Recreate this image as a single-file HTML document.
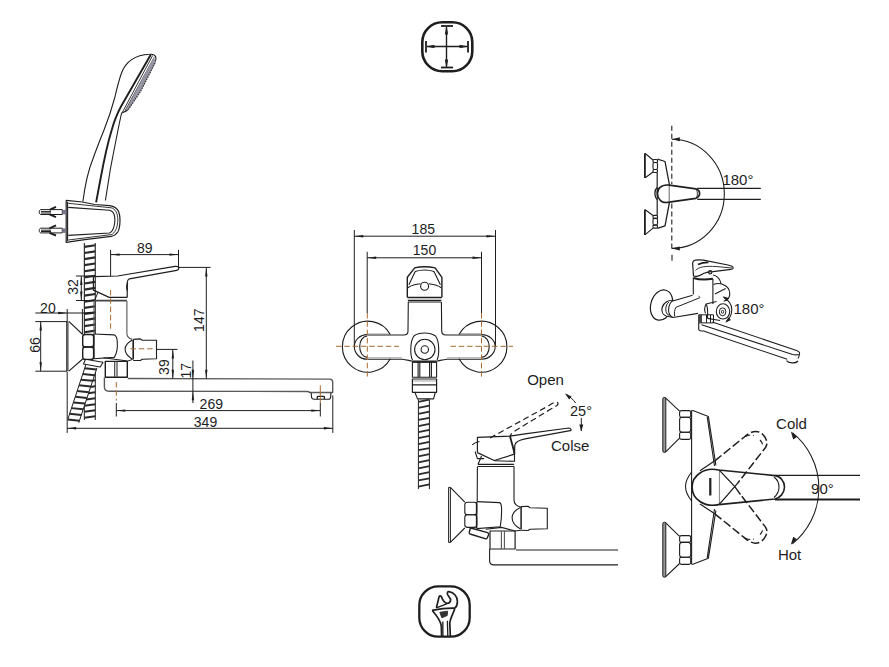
<!DOCTYPE html>
<html><head><meta charset="utf-8"><style>
html,body{margin:0;padding:0;background:#fff;}
svg{display:block;}
text{font-family:"Liberation Sans",sans-serif;fill:#1e1e1e;stroke:none;}
</style></head><body>
<svg width="889" height="667" viewBox="0 0 889 667">
<g fill="none" stroke="#1e1e1e" stroke-width="1.1" stroke-linecap="butt" stroke-linejoin="round">
<g id="icon1" stroke="#1e1e1e">
<rect x="422.3" y="22.3" width="50" height="49" rx="20" ry="20" stroke-width="2.6"/>
<line x1="427" y1="46.5" x2="467" y2="46.5" stroke-width="1.4"/>
<line x1="446.5" y1="27" x2="446.5" y2="67" stroke-width="1.4"/>
<path d="M428,46.5 L434,45.3 L435,46.5 L434,47.7 Z M466,46.5 L460,45.3 L459,46.5 L460,47.7 Z M446.5,28 L445.3,34 L446.5,35 L447.7,34 Z M446.5,66 L445.3,60 L446.5,59 L447.7,60 Z" fill="#1e1e1e" stroke-width="0.8"/>
<line x1="426" y1="41" x2="426" y2="52.5" stroke-width="1.8"/>
<line x1="468" y1="41" x2="468" y2="52.5" stroke-width="1.8"/>
<line x1="441" y1="26" x2="453" y2="26" stroke-width="1.8"/>
<line x1="441" y1="67.5" x2="453" y2="67.5" stroke-width="1.8"/>
</g>
<g id="icon2" stroke="#1e1e1e">
<rect x="419.3" y="586.3" width="50.4" height="50.4" rx="19" ry="19" stroke-width="2.3"/>
<path d="M432.3,610.6 C436.5,615.5 440.5,620 441.3,626 L441.6,636" stroke-width="1.7"/>
<path d="M454.8,608.6 C453.3,613.5 450.3,618 449.8,623 L450.3,636" stroke-width="1.7"/>
<path d="M442.8,621.5 L442.9,636 M447.4,620.8 L447.8,636" stroke-width="1.3"/>
<path d="M432,610.4 C440,608.8 448,608 455,608.2" stroke-width="1.7"/>
<path d="M436.4,607.9 L439,597 C439.5,595.6 440.6,595.6 441.2,596.4 C442.6,599.8 444.6,603 447,603.4 C449,603.5 450.4,601.5 450.7,599.5 L447.6,594.6 C447,593.2 447.5,591.4 449,591.6 C454,592.4 457.4,596.8 457.4,601.4 C457.4,604.8 456.3,607 454.9,608.2" stroke-width="1.7"/>
<path d="M436.4,607.9 L446.7,603.8" stroke-width="1.3"/>
<path d="M439.8,612.3 L447.6,611.2 L447.2,615.6 L441.8,617.8 Z" fill="#333" stroke-width="0.8"/>
</g>
<g id="left">
<path d="M82.9,201.5 C85,185 88.5,170 92.7,159.5 C96,150 100,140 104,130 C108,120 112,108 114.8,97.5 C117,88 119,80 121.5,73 C126,61 136,55 149.6,54.3 C152.5,54 155,55 155.8,57 C156.3,58.5 156,60 155.2,61.5 L127.5,110 C126,111.5 123.5,112.3 121.6,113 C120,120 119,125 118,130 C116,140 114,150 112.2,159.5 C110.5,168 109.5,174 108.8,179 L105.4,200.5"/>
<path d="M150.7,54.8 L121,106.5 C118,112 114.5,120 111.7,130 C108,142 104,160 100.5,179 L96.1,202.4" stroke-width="1.9"/>
<path d="M152.6,55.5 L122.4,112.3 M154.2,57.3 L125.2,110.5" stroke-width="0.9"/>
<path d="M153.5,57.5 C155,58.5 155.6,60.5 155,63 L140.5,91.5 L128.3,109.5 L125.6,110.3 Z" fill="#9595a3" stroke="none"/>
<path d="M155,63 L140.5,91.5 L128.3,109.5" stroke="#333" stroke-width="1.3" stroke-dasharray="1.5,1"/>
<path d="M66.2,200.4 L82.3,202 L94.7,204.5 L109.5,205.7 C114,206.3 117.5,208.5 118.8,212 C119.8,215 120,218 120,220 C120,225 119.5,229 117.8,232 C116,234.5 113.5,236 111.2,236.3 L84.8,239.6 L66.2,242.4 Z" stroke-width="1.2"/>
<path d="M68.3,203.3 L111.2,207.8 C115,208.5 117.8,213 117.8,219.8 C117.8,227 115,233.5 111.2,234.6 L68.3,240" stroke-width="0.9"/>
<path d="M68.3,207.4 L109.5,210.3 C112.8,211 114.9,214.5 114.9,219.8 C114.9,225.5 113,232 109.5,233 L68.3,235.4" stroke-width="1.1"/>
<line x1="67.6" y1="202" x2="67.6" y2="241"/>
<g stroke-width="1">
<path d="M41,209.6 L62.3,209.6 L62.3,214.5 L41,214.5 C38.6,214.5 38.6,209.6 41,209.6 Z M41,211.6 L51,211.6 M41,213 L51,213"/>
<path d="M49.5,209.8 L56,206.8 M49.5,214.4 L56,217.2" stroke-width="1.9"/>
<rect x="62.4" y="209.9" width="4" height="4.5" fill="#77778a" stroke="none"/>
<path d="M41,228.2 L62.3,228.2 L62.3,232.9 L41,232.9 C38.6,232.9 38.6,228.2 41,228.2 Z M41,230.2 L51,230.2 M41,231.5 L51,231.5"/>
<path d="M49.5,228.4 L56,225.4 M49.5,232.8 L56,235.5" stroke-width="1.9"/>
<rect x="62.4" y="228.4" width="4" height="4.5" fill="#77778a" stroke="none"/>
</g>

<g><line x1="84.35" y1="243.00" x2="84.35" y2="334.00" stroke-width="1.1"/><line x1="95.25" y1="243.00" x2="95.25" y2="334.00" stroke-width="1.1"/><line x1="84.35" y1="246.87" x2="95.25" y2="245.23" stroke-width="2.2" stroke="#2a2a2a"/><line x1="84.35" y1="252.97" x2="95.25" y2="251.33" stroke-width="2.2" stroke="#2a2a2a"/><line x1="84.35" y1="259.07" x2="95.25" y2="257.43" stroke-width="2.2" stroke="#2a2a2a"/><line x1="84.35" y1="265.17" x2="95.25" y2="263.53" stroke-width="2.2" stroke="#2a2a2a"/><line x1="84.35" y1="271.27" x2="95.25" y2="269.63" stroke-width="2.2" stroke="#2a2a2a"/><line x1="84.35" y1="277.37" x2="95.25" y2="275.73" stroke-width="2.2" stroke="#2a2a2a"/><line x1="84.35" y1="283.47" x2="95.25" y2="281.83" stroke-width="2.2" stroke="#2a2a2a"/><line x1="84.35" y1="289.57" x2="95.25" y2="287.93" stroke-width="2.2" stroke="#2a2a2a"/><line x1="84.35" y1="295.67" x2="95.25" y2="294.03" stroke-width="2.2" stroke="#2a2a2a"/><line x1="84.35" y1="301.77" x2="95.25" y2="300.13" stroke-width="2.2" stroke="#2a2a2a"/><line x1="84.35" y1="307.87" x2="95.25" y2="306.23" stroke-width="2.2" stroke="#2a2a2a"/><line x1="84.35" y1="313.97" x2="95.25" y2="312.33" stroke-width="2.2" stroke="#2a2a2a"/><line x1="84.35" y1="320.07" x2="95.25" y2="318.43" stroke-width="2.2" stroke="#2a2a2a"/><line x1="84.35" y1="326.17" x2="95.25" y2="324.53" stroke-width="2.2" stroke="#2a2a2a"/><line x1="84.35" y1="332.27" x2="95.25" y2="330.63" stroke-width="2.2" stroke="#2a2a2a"/></g>

<path d="M93.4,276.6 L117.6,276 L175,266.4 C177.5,266 179,267 178.8,268.3 C178.6,269.5 177.8,270.2 176.7,270.4 L129.4,278.8 C128,279.5 127.5,280.5 127.3,282 L127.2,297.4" stroke-width="1.2"/>
<path d="M93.4,276.6 L93.4,290.1 L109.2,297.4 L127.2,297.4" stroke-width="1.2"/>
<path d="M97.9,292.3 L94.6,300.7" stroke-width="1"/>
<path d="M127.6,283 C126.5,286 126.5,289 127.6,290.5" stroke-width="1.4"/>
<line x1="94" y1="300.7" x2="126.8" y2="300.7" stroke-width="1.8" stroke="#444"/>
<path d="M94,301 L94,334 M126.9,301 L126.9,333.5 C126.9,336.5 129,338.5 132.3,339.4" stroke="#555"/>
<path d="M67.8,321.4 L67.8,371.2" stroke-width="2" stroke="#888"/>
<path d="M66.8,321.4 L66.8,371.2 M68.8,321.4 L82.7,334.5 M68.8,371.2 L82.7,359" stroke-width="1.1"/>
<rect x="82.7" y="334.5" width="10.9" height="12.5" rx="2.5" stroke-width="1.4"/>
<rect x="82.7" y="347" width="10.9" height="12.4" rx="2.5" stroke-width="1.4"/>
<path d="M93.6,334 L114.3,334.9 C116,335.5 117,338 117.2,341 C117.8,347 117,353 114.3,357.4 L93.6,358.7" stroke-width="1.1"/>
<line x1="93.8" y1="334.2" x2="93.8" y2="358.6" stroke-width="1.6"/>
<path d="M133.2,339.8 L133.2,359.6" stroke-width="1.6"/>
<path d="M132.3,340 C128,342.5 125.1,346 125.1,349.3 C125.1,353 128,356.5 132.3,359.2"/>
<path d="M133.2,339.4 L140.4,338.9 L142.2,340.3 L156.5,340.3 L156.5,358.7 L142.2,359.2 L140.4,360.5 L133.2,360.5"/>
<path d="M103.5,357.8 L127.8,361 L132.5,359.5" stroke-width="1"/>
<path d="M105.3,361.4 L127.3,361.4 L127.3,377.2 L105.3,377.2 Z" stroke-width="1.4"/>
<path d="M114.7,361.4 L114.7,377.2 M117,361.4 L117,377.2" stroke="#444" stroke-width="1.2"/>
<path stroke="#5a5a5a" stroke-width="1.4" d="M127.8,378.5 L330,379.1 C331.8,379.3 332.7,380.5 332.7,382.1 L332.7,392.5 L310.2,392.5 L307.7,391.5 L109,391.2 C106,391.2 104.4,389.5 104.4,387 L104.4,377.6"/>
<path d="M311.2,392.7 L311.5,397 C311.7,398.5 312.5,399.3 314,399.3 L328.5,399.3 C330,399.3 330.6,398.3 330.7,397 L330.9,392.7"/>
<path d="M317.3,399 L317.3,397 C317.3,396.5 317.6,396.3 318.2,396.3 L323.5,396.3 C324.1,396.3 324.4,396.5 324.4,397 L324.4,399" stroke-width="1.3"/>

<g><line x1="84.30" y1="372.00" x2="84.30" y2="420.00" stroke-width="1.0"/><line x1="95.30" y1="372.00" x2="95.30" y2="420.00" stroke-width="1.0"/><line x1="84.30" y1="375.83" x2="95.30" y2="374.17" stroke-width="2.0" stroke="#2a2a2a"/><line x1="84.30" y1="381.83" x2="95.30" y2="380.17" stroke-width="2.0" stroke="#2a2a2a"/><line x1="84.30" y1="387.83" x2="95.30" y2="386.17" stroke-width="2.0" stroke="#2a2a2a"/><line x1="84.30" y1="393.83" x2="95.30" y2="392.17" stroke-width="2.0" stroke="#2a2a2a"/><line x1="84.30" y1="399.83" x2="95.30" y2="398.17" stroke-width="2.0" stroke="#2a2a2a"/><line x1="84.30" y1="405.83" x2="95.30" y2="404.17" stroke-width="2.0" stroke="#2a2a2a"/><line x1="84.30" y1="411.83" x2="95.30" y2="410.17" stroke-width="2.0" stroke="#2a2a2a"/><line x1="84.30" y1="417.83" x2="95.30" y2="416.17" stroke-width="2.0" stroke="#2a2a2a"/></g>
<g><path d="M86.04,364.19 L67.84,419.19 L78.76,422.81 L96.96,367.81 Z" fill="#fff" stroke="none"/><line x1="86.04" y1="364.19" x2="67.84" y2="419.19" stroke-width="1.0"/><line x1="96.96" y1="367.81" x2="78.76" y2="422.81" stroke-width="1.0"/><line x1="84.70" y1="368.26" x2="96.42" y2="369.44" stroke-width="2.0" stroke="#2a2a2a"/><line x1="82.81" y1="373.96" x2="94.53" y2="375.13" stroke-width="2.0" stroke="#2a2a2a"/><line x1="80.93" y1="379.65" x2="92.65" y2="380.83" stroke-width="2.0" stroke="#2a2a2a"/><line x1="79.04" y1="385.35" x2="90.76" y2="386.52" stroke-width="2.0" stroke="#2a2a2a"/><line x1="77.16" y1="391.04" x2="88.88" y2="392.22" stroke-width="2.0" stroke="#2a2a2a"/><line x1="75.27" y1="396.74" x2="86.99" y2="397.92" stroke-width="2.0" stroke="#2a2a2a"/><line x1="73.39" y1="402.44" x2="85.11" y2="403.61" stroke-width="2.0" stroke="#2a2a2a"/><line x1="71.50" y1="408.13" x2="83.23" y2="409.31" stroke-width="2.0" stroke="#2a2a2a"/><line x1="69.62" y1="413.83" x2="81.34" y2="415.01" stroke-width="2.0" stroke="#2a2a2a"/><line x1="67.73" y1="419.53" x2="79.46" y2="420.70" stroke-width="2.0" stroke="#2a2a2a"/></g>
<path d="M85.5,359.2 L103,362.2 L100.2,367 L83.5,364 Z"/>
</g>
<g id="leftdims" stroke-width="1">
<line x1="110.6" y1="249.8" x2="110.6" y2="276"/>
<line x1="178.5" y1="249.8" x2="178.5" y2="267"/>
<line x1="110.6" y1="254.6" x2="178.5" y2="254.6"/><path d="M110.60,254.60 L119.60,253.40 L119.60,255.80 Z" fill="#1e1e1e" stroke="none"/><path d="M178.50,254.60 L169.50,255.80 L169.50,253.40 Z" fill="#1e1e1e" stroke="none"/>
<line x1="76" y1="276" x2="94" y2="276"/>
<line x1="76" y1="300.5" x2="94" y2="300.5"/>
<line x1="81.3" y1="276" x2="81.3" y2="300.5"/><path d="M81.30,276.00 L82.50,285.00 L80.10,285.00 Z" fill="#1e1e1e" stroke="none"/><path d="M81.30,300.50 L80.10,291.50 L82.50,291.50 Z" fill="#1e1e1e" stroke="none"/>
<line x1="178.5" y1="267.4" x2="210.6" y2="267.4"/>
<line x1="206.3" y1="267.4" x2="206.3" y2="378.8"/><path d="M206.30,267.40 L207.50,276.40 L205.10,276.40 Z" fill="#1e1e1e" stroke="none"/><path d="M206.30,378.80 L205.10,369.80 L207.50,369.80 Z" fill="#1e1e1e" stroke="none"/>
<line x1="35.3" y1="313" x2="94" y2="313"/>
<path d="M67.20,313.00 L58.20,314.20 L58.20,311.80 Z" fill="#1e1e1e" stroke="none"/><path d="M82.40,313.00 L91.40,311.80 L91.40,314.20 Z" fill="#1e1e1e" stroke="none"/>
<line x1="67.2" y1="309" x2="67.2" y2="321.6"/>
<line x1="82.4" y1="309" x2="82.4" y2="334"/>
<line x1="35.3" y1="321.6" x2="67.2" y2="321.6"/>
<line x1="35.3" y1="371.2" x2="67.2" y2="371.2"/>
<line x1="40.7" y1="321.6" x2="40.7" y2="371.2"/><path d="M40.70,321.60 L41.90,330.60 L39.50,330.60 Z" fill="#1e1e1e" stroke="none"/><path d="M40.70,371.20 L39.50,362.20 L41.90,362.20 Z" fill="#1e1e1e" stroke="none"/>
<line x1="156" y1="349.4" x2="177.5" y2="349.4"/>
<line x1="172.8" y1="349.4" x2="172.8" y2="378.8"/><path d="M172.80,349.40 L174.00,358.40 L171.60,358.40 Z" fill="#1e1e1e" stroke="none"/><path d="M172.80,378.80 L171.60,369.80 L174.00,369.80 Z" fill="#1e1e1e" stroke="none"/>
<line x1="192.9" y1="360.5" x2="192.9" y2="403"/>
<path d="M192.90,378.80 L191.70,369.80 L194.10,369.80 Z" fill="#1e1e1e" stroke="none"/><path d="M192.90,391.20 L194.10,400.20 L191.70,400.20 Z" fill="#1e1e1e" stroke="none"/>
<line x1="116.3" y1="403" x2="116.3" y2="416.5"/>
<line x1="320.3" y1="403" x2="320.3" y2="416.5"/>
<line x1="116.3" y1="410.6" x2="320.3" y2="410.6"/><path d="M116.30,410.60 L125.30,409.40 L125.30,411.80 Z" fill="#1e1e1e" stroke="none"/><path d="M320.30,410.60 L311.30,411.80 L311.30,409.40 Z" fill="#1e1e1e" stroke="none"/>
<line x1="67.2" y1="372" x2="67.2" y2="432.9"/>
<line x1="332.8" y1="395.4" x2="332.8" y2="432.9"/>
<line x1="67.2" y1="428.3" x2="332.8" y2="428.3"/><path d="M67.20,428.30 L76.20,427.10 L76.20,429.50 Z" fill="#1e1e1e" stroke="none"/><path d="M332.80,428.30 L323.80,429.50 L323.80,427.10 Z" fill="#1e1e1e" stroke="none"/>
</g>
<g id="leftcenter" stroke="#a8692e" stroke-width="1" stroke-dasharray="5.5,2.8">
<line x1="110.6" y1="290" x2="110.6" y2="330"/>
<line x1="130.5" y1="348.8" x2="154" y2="348.8"/>
<line x1="116.3" y1="382" x2="116.3" y2="400.5"/>
<line x1="320.3" y1="385.3" x2="320.3" y2="403" stroke-dasharray="none"/>
</g>
<g id="lefttext">
<text x="144.7" y="252.5" font-size="14" text-anchor="middle">89</text><text x="47.9" y="313.3" font-size="14" text-anchor="middle">20</text><text x="78.3" y="286.9" font-size="14" text-anchor="middle" transform="rotate(-90 78.3 286.9)">32</text><text x="39.6" y="345" font-size="14" text-anchor="middle" transform="rotate(-90 39.6 345)">66</text><text x="204" y="320.2" font-size="14" text-anchor="middle" transform="rotate(-90 204 320.2)">147</text><text x="169.5" y="367.1" font-size="14" text-anchor="middle" transform="rotate(-90 169.5 367.1)">39</text><text x="191.3" y="370.8" font-size="14" text-anchor="middle" transform="rotate(-90 191.3 370.8)">17</text><text x="211.3" y="409.3" font-size="14" text-anchor="middle">269</text><text x="205.5" y="427.3" font-size="14" text-anchor="middle">349</text></g>
<g id="front">
<!-- lever front -->
<path d="M407.3,297.3 L407.3,277.3 L414.7,267.9 C418,267 421,266.8 424.6,266.8 C428,266.8 431,267 435.1,267.9 L441.9,277.3 L441.9,297.3" stroke-width="1.4"/>
<path d="M408.9,284.7 L415.2,271.5 C418,270.5 421,270 424.6,270 C428,270 431,270.5 434,271.5 L440.4,284.7"/>
<path d="M407.8,287.8 C412,285 417,284 420.5,283.8 M428.7,283.8 C432,284 437,285 441.4,287.8"/>
<circle cx="424.6" cy="286.2" r="4"/>
<line x1="407.3" y1="297.5" x2="441.9" y2="297.5" stroke-width="1.5"/>
<line x1="407.8" y1="300.4" x2="441.4" y2="300.4"/>
<line x1="408" y1="302" x2="441.2" y2="302"/>
<!-- body -->
<path d="M408.3,302 L408,331 C408,333.5 407,335 404,335 L367.5,335"/>
<path d="M441.4,302 L441.7,331 C441.7,333.5 443,335 446,335 L481.5,335"/>
<line x1="367.5" y1="334.6" x2="390" y2="334.6" stroke="#888" stroke-width="2"/>
<line x1="459" y1="334.4" x2="481.5" y2="334.4" stroke="#888" stroke-width="2"/>
<!-- arm ends -->
<path d="M367.2,334.6 C360,334.6 354.3,340 354.3,346.6 C354.3,353.5 360,359.2 367.2,359.2" stroke-width="1.1"/>
<path d="M367.2,336 C362.5,336.5 359.7,341 359.7,346.6 C359.7,352.5 362.5,357 367.2,357.4"/>
<path d="M481.5,334.6 C489,334.6 495.2,340 495.2,346.6 C495.2,353.5 489,359.2 481.5,359.2" stroke-width="1.1"/>
<path d="M481.5,336 C486.2,336.5 489.2,341 489.2,346.6 C489.2,352.5 486.2,357 481.5,357.4"/>
<line x1="367.2" y1="357.7" x2="402" y2="357.7" stroke="#999" stroke-width="0.8"/>
<line x1="447" y1="357.7" x2="481.5" y2="357.7" stroke="#999" stroke-width="0.8"/>
<!-- arm bottom -->
<path d="M367.5,359.2 L402,359.2 C406,359.5 409,360.5 412,361 L437,361 C440,360.5 443,359.5 447,359.2 L481.5,359.2"/>
<!-- big circles (partial) -->
<path d="M390.3,334.5 A25.5,25.5 0 1 0 390.3,358.8"/>
<path d="M459,334.5 A25.5,25.5 0 1 1 459,358.8"/>
<!-- central circle -->
<path d="M412.5,360 C410,355 410,341 414,336 C417,333.5 420,333 424.7,333 C429,333 432,333.5 435.5,336 C439.5,341 439.5,355 437,360"/>
<circle cx="424.8" cy="349.5" r="10.2"/>
<circle cx="424.8" cy="349.5" r="3.7"/>
<!-- nut -->
<path d="M412.4,362 L436.6,362 L436.6,377.3 L412.4,377.3 Z M418.1,362 L418.1,377.3 M419.8,362 L419.8,377.3 M429.6,362 L429.6,377.3 M431.4,362 L431.4,377.3" stroke-width="1.1"/>
<line x1="412.4" y1="362" x2="436.6" y2="362" stroke-width="1.6"/>
<path d="M412.4,379 L436.6,379 L436.6,392.3 L412.4,392.3 Z M413,384.8 L436,384.8" stroke-width="1.2"/>
<line x1="413" y1="381" x2="436" y2="381" stroke="#999" stroke-width="0.9"/>
<path d="M414.8,392 L417.5,398.9 L433.6,398.9 L435.4,392"/>

<g><line x1="418.40" y1="399.50" x2="418.40" y2="489.00" stroke-width="1.0"/><line x1="429.40" y1="399.50" x2="429.40" y2="489.00" stroke-width="1.0"/><line x1="418.40" y1="401.84" x2="429.40" y2="399.61" stroke-width="1.8" stroke="#2a2a2a"/><line x1="418.40" y1="407.89" x2="429.40" y2="405.66" stroke-width="1.8" stroke="#2a2a2a"/><line x1="418.40" y1="413.94" x2="429.40" y2="411.71" stroke-width="1.8" stroke="#2a2a2a"/><line x1="418.40" y1="419.99" x2="429.40" y2="417.76" stroke-width="1.8" stroke="#2a2a2a"/><line x1="418.40" y1="426.04" x2="429.40" y2="423.81" stroke-width="1.8" stroke="#2a2a2a"/><line x1="418.40" y1="432.09" x2="429.40" y2="429.86" stroke-width="1.8" stroke="#2a2a2a"/><line x1="418.40" y1="438.14" x2="429.40" y2="435.91" stroke-width="1.8" stroke="#2a2a2a"/><line x1="418.40" y1="444.19" x2="429.40" y2="441.96" stroke-width="1.8" stroke="#2a2a2a"/><line x1="418.40" y1="450.24" x2="429.40" y2="448.01" stroke-width="1.8" stroke="#2a2a2a"/><line x1="418.40" y1="456.29" x2="429.40" y2="454.06" stroke-width="1.8" stroke="#2a2a2a"/><line x1="418.40" y1="462.34" x2="429.40" y2="460.11" stroke-width="1.8" stroke="#2a2a2a"/><line x1="418.40" y1="468.39" x2="429.40" y2="466.16" stroke-width="1.8" stroke="#2a2a2a"/><line x1="418.40" y1="474.44" x2="429.40" y2="472.21" stroke-width="1.8" stroke="#2a2a2a"/><line x1="418.40" y1="480.49" x2="429.40" y2="478.26" stroke-width="1.8" stroke="#2a2a2a"/><line x1="418.40" y1="486.54" x2="429.40" y2="484.31" stroke-width="1.8" stroke="#2a2a2a"/></g>
</g>
<g id="frontdims" stroke-width="1">
<line x1="354.3" y1="230" x2="354.3" y2="346"/>
<line x1="495.5" y1="230" x2="495.5" y2="346"/>
<line x1="354.3" y1="236.2" x2="495.5" y2="236.2"/><path d="M354.30,236.20 L363.30,235.00 L363.30,237.40 Z" fill="#1e1e1e" stroke="none"/><path d="M495.50,236.20 L486.50,237.40 L486.50,235.00 Z" fill="#1e1e1e" stroke="none"/>
<line x1="367.2" y1="251.8" x2="367.2" y2="313"/>
<line x1="481.5" y1="251.8" x2="481.5" y2="313"/>
<line x1="367.2" y1="257.8" x2="481.5" y2="257.8"/><path d="M367.20,257.80 L376.20,256.60 L376.20,259.00 Z" fill="#1e1e1e" stroke="none"/><path d="M481.50,257.80 L472.50,259.00 L472.50,256.60 Z" fill="#1e1e1e" stroke="none"/>
</g>
<g id="frontcenter" stroke="#a8692e" stroke-width="1" stroke-dasharray="5.5,2.8">
<line x1="336" y1="346.3" x2="399" y2="346.3"/>
<line x1="450.5" y1="346.3" x2="513" y2="346.3"/>
<line x1="367.3" y1="313" x2="367.3" y2="378"/>
<line x1="481.5" y1="313" x2="481.5" y2="378"/>
</g>
<g><text x="423.3" y="234.4" font-size="14" text-anchor="middle">185</text><text x="424.5" y="255.4" font-size="14" text-anchor="middle">150</text></g>
<g id="side2">
<path d="M477.4,452.6 L477.4,437.4 L510,436.1 L525,433.9 L568.7,428 C571.5,428 571.5,431 570.2,430.6 L525,438.8 C519,440 515.5,441.5 514.8,445 L514.5,454.1 L494.3,460.5 L477.4,452.6" stroke-width="1.2"/>
<path d="M494.3,460.8 L514.5,461.3 L514.5,454.1"/>
<path d="M510,436.3 C511.5,442 513.5,448 514.5,454" stroke-width="1.8"/>
<path d="M472.2,444.8 C474,443 476,442.3 479.5,441.5 M475.1,451.5 L477.4,458.6 L484.1,458.6 M481.5,456 L478.1,464.3"/>
<g stroke-dasharray="6,3.5" stroke-width="1.2">
<path d="M490,438 L546.5,406.9 C550,405 553,402.5 555.1,402.2 C557,402 558.5,403 557.9,404.2 C557.5,405.5 556.5,406 550.4,409.3 L514,431.5 C511.5,433 510.2,435 510.2,437.2"/>
</g>
<line x1="477.8" y1="464.3" x2="514.1" y2="464.3" stroke-width="1.3"/>
<line x1="477.8" y1="466.5" x2="514.1" y2="466.5"/>
<path d="M448.6,487.4 L448.6,542.4 M450.4,487.4 L450.4,542.4 M448.6,487.4 L450.4,487.4 M448.6,542.4 L450.4,542.4" stroke-width="1"/>
<path d="M450.4,487.4 L464.8,502.2 M450.4,542.4 L464.8,528" stroke-width="1.1"/>
<rect x="464.8" y="502.2" width="12" height="12.6" rx="2.6"/>
<rect x="464.8" y="514.8" width="12" height="12.6" rx="2.6"/>
<line x1="476.6" y1="502" x2="476.6" y2="528.4" stroke-width="1.5"/>
<path d="M476.8,501.6 L499.5,502.6 C500.8,503 501.4,505 501.5,507.6 C501.8,514 501.3,521 500.2,526.8 L476.8,528.6"/>
<path d="M470.8,528 L487.6,532.6 C488.6,533 488.8,534 488.5,535 L487.2,538 C486.8,538.8 486,539 485,538.7 L470,534 C469.3,533.7 469,533 469.3,532 L470.1,529 C470.3,528.2 470.8,528 470.8,528 Z" stroke-width="1.4"/>
<path d="M485.8,529.2 L501.4,527.4 L515.1,531"/>
<path d="M490,531 L515.1,531 L515.1,549 L490,549 Z" stroke-width="1.2"/>
<path d="M501.4,531 L501.4,549 M504.4,531 L504.4,549" stroke="#555"/>
<path d="M477.4,466.5 L477.2,501.6 M514,466.5 L514,500 C514,503.5 516,506 521.1,507.2"/>
<path d="M521.1,506.8 L521.1,529.2" stroke-width="1.5"/>
<path d="M520.5,507.5 C515,510 512.1,514 512.1,517.8 C512.1,522 515,526 520.5,529"/>
<path d="M521.1,506.6 L528,506.3 L530,507.8 L547.3,508.2 L547.3,528.8 L530,529.2 L528,530.5 L521.1,530.3"/>
<path d="M515.1,531 L521.1,530.3"/>
<path d="M515.9,550 L618,550 M489.6,549 L489.6,560.5 C489.6,563 491,564.9 494,564.9 L618,564.9"/>
</g>
<g stroke-width="1">
<path d="M566.5,394.4 C570,396.5 573,399.5 575.7,403" />
<path d="M565.00,393.50 L571.66,396.44 L569.10,399.52 Z" fill="#1e1e1e" stroke="none"/>
<line x1="581.3" y1="418" x2="581.3" y2="431"/>
<path d="M581.30,431.50 L579.30,424.50 L583.30,424.50 Z" fill="#1e1e1e" stroke="none"/>
</g>
<g><text x="545.5" y="385.2" font-size="15" text-anchor="middle">Open</text><text x="581" y="415.5" font-size="14.5" text-anchor="middle">25°</text><text x="570.2" y="451" font-size="15" text-anchor="middle">Colse</text></g>
<g id="top180">
<line x1="671.8" y1="125.8" x2="671.8" y2="184" stroke-dasharray="5,3" stroke-width="1.1"/>
<line x1="671.8" y1="203.5" x2="671.8" y2="249" stroke-dasharray="5,3" stroke-width="1.1"/>
<path d="M671.8,139.3 A52.5,54.5 0 0 1 671.8,248.4" stroke-width="1.1"/>
<path d="M671.80,139.30 L679.80,137.30 L679.80,141.30 Z" fill="#1e1e1e" stroke="none"/><path d="M671.80,248.40 L679.80,246.40 L679.80,250.40 Z" fill="#1e1e1e" stroke="none"/>
<path d="M697.2,188.3 L760.8,188.3 M697.2,199.3 L760.8,199.3" stroke-width="1.2"/>
<path d="M669.2,185.1 L695.9,188.8 C698,189.5 699.6,191.5 699.6,193.6 C699.6,195.7 698,197.5 695.9,198.3 L669.2,202.2 C666,202.8 662,202.5 660,200 C658,198 657.4,196 657.4,193.6 C657.4,191 658,189 660,187.5 C662,185.5 666,184.8 669.2,185.1 Z" stroke-width="1.7"/>
<path d="M696.5,189.8 C697.6,191.5 697.8,196 696.5,197.6" stroke-width="0.9"/>
<line x1="669.2" y1="185.5" x2="669.2" y2="202" stroke="#555" stroke-width="0.9"/>
<path d="M644.9,153.2 L644.9,178" stroke-width="1.8"/>
<path d="M645.2,153.5 L653,160 M645.2,177.7 L653,172"/>
<rect x="653" y="159.5" width="4.5" height="3" rx="1"/><rect x="653" y="162.5" width="4.5" height="7" rx="1.5"/><rect x="653" y="169.5" width="4.5" height="3" rx="1"/>
<path d="M657.5,159.2 L665,161.5 L669.5,185" stroke-width="1.3"/>
<path d="M644.9,209.4 L644.9,234.9" stroke-width="1.8"/>
<path d="M645.2,209.7 L653,215.5 M645.2,234.6 L653,228.1"/>
<rect x="653" y="215.4" width="4.5" height="3" rx="1"/><rect x="653" y="218.4" width="4.5" height="6.7" rx="1.5"/><rect x="653" y="225.1" width="4.5" height="3" rx="1"/>
<path d="M657.5,228.3 L665,225.9 L669.5,202.2" stroke-width="1.3"/>
<line x1="657.2" y1="172.5" x2="657.2" y2="215.4" stroke-width="1.2"/>
<path d="M657,187.5 C654.2,190 654.2,197 657,199.5" stroke-width="1.3"/>
</g>
<g><text x="737.9" y="185.2" font-size="15" text-anchor="middle">180°</text></g>
<g id="iso">
<line x1="672" y1="254.7" x2="672" y2="260.8"/>
<ellipse cx="661.6" cy="305.1" rx="10.8" ry="15.4" transform="rotate(16 661.6 305.1)" stroke-width="1.2"/>
<path d="M673,300.3 C668.5,299.8 664,302.5 662.3,307 C661.2,311 662.5,314.8 666.2,316 L673.5,317.5 Z" fill="#fff" stroke-width="1.2"/>
<path d="M669,301.8 C666.3,304 665.2,308 666,311.5 C666.5,313.5 667.5,314.7 669.2,315.3" stroke-width="1"/>
<path d="M672,301.2 L692.6,295.2 C694,294.8 695.5,294.8 696.5,295.3 L698,313.4 L673,317.5 C670,316.2 668.4,313 668.6,309.5 C668.8,306 670,303 672,301.2 Z" fill="#fff" stroke="none"/>
<path d="M698,313.4 L673,317.5 C670,316.2 668.4,313 668.6,309.5 C668.8,306 670,303 672,301.2 L692.6,295.2" stroke-width="1.1"/>
<path d="M675.8,307.4 L699.4,297.9 C700.5,297.5 699.5,296.5 698.5,296.2 M675.8,307.4 C674.5,310 674.2,313 674.6,316.3" stroke-width="1"/>
<path d="M693.3,277.5 L693.3,294.5 M712.9,279 L712.9,304" stroke-width="1.1"/>
<path d="M693.5,276 L692.6,262.8 C693,261 694,260.3 695.3,260.1 C698,259.8 701,259.8 703.4,260.1 L728,265 C731.5,265.8 733.5,266.5 733.1,268.2 C732.8,269.3 731,269.5 729,269.6 L712.9,271.6 C708,272 705,272.6 703.4,273.6 C701,275 699,276.2 696.7,276.3 C695,276.4 694,276.2 693.5,276 Z" stroke-width="1.2"/>
<path d="M698,264.5 C701,263 705,262.2 708.5,262.3" stroke-width="1.8"/>
<path d="M695.5,270.5 C699,266.5 706,266 716,266.5 L732,268" stroke-width="0.9"/>
<circle cx="710.2" cy="272.3" r="1.7"/>
<path d="M693.5,278 C699,279.8 707,279.8 712.9,278.8" stroke-width="2"/>
<path d="M713,275 C717,275.5 720.5,279 721,284"/>
<path d="M713.5,284.4 C716,283.5 720,283.3 723,284.5 C727,286 729.5,289 729.8,293.5 C730,297.5 727.5,300 723.7,301.3" stroke-width="1.1"/>
<path d="M714.9,293.9 L725.7,288.5"/>
<path d="M706.1,304 L716.5,301.5 M707.5,318.4 L720,320.5"/>
<path d="M706.1,304 C704.5,307 704.5,311 705.5,313.4 M706.1,304 C708,307 708,311 707.5,318.4"/>
<ellipse cx="723" cy="311.4" rx="6.7" ry="7.6" stroke-width="1.1"/>
<ellipse cx="722.6" cy="311.8" rx="3.3" ry="4" stroke-width="1"/>
<ellipse cx="722.6" cy="311.8" rx="1.2" ry="1.5" stroke-width="0.9"/>
<path d="M723.7,297.2 C728.5,300 731.8,304.5 731.8,309.5 C731.8,314.5 729.8,318.5 726.4,321.5" stroke-width="1.1"/>
<path d="M722.50,296.30 L728.58,297.91 L726.55,301.12 Z" fill="#1e1e1e" stroke="none"/><path d="M725.30,322.70 L728.37,317.21 L730.97,319.98 Z" fill="#1e1e1e" stroke="none"/>
<path d="M698.7,314.8 L713.5,314.8 L713.5,322.9 L698.7,322.9 Z M701.3,314.8 L701.3,322.9 M706.5,314.8 L706.5,322.9 M710.5,314.8 L710.5,322.9" stroke-width="1"/>
<rect x="698.7" y="314.8" width="2.6" height="8.1" fill="#444" stroke="none"/>
<path d="M712.3,322.1 L796.6,350.5 C799.5,351.5 800,353 799.3,354.8 C799,357 798.7,358 798,358.6 M701.5,324.8 L792.6,354.5 C795,355 797,355 799.3,354.5 M698.7,323 L698.7,328.9 C698.7,330.5 700.5,331 703.5,331 L787.2,359.3"/>
<path d="M786.5,360.6 C788.5,363.3 795.5,364 798,361" stroke-width="1.2"/>
</g>
<g><text x="749" y="314" font-size="15" text-anchor="middle">180°</text></g>
<g id="rot90">
<rect x="662.8" y="397.4" width="3" height="55" rx="1.5" fill="#999" stroke-width="1"/>
<path d="M665.2,397.6 L679.6,411.2 M665.2,452.3 L679.6,438.2"/>
<rect x="679.6" y="410.6" width="11.100000000000023" height="6.599999999999966" rx="1.8"/><rect x="679.6" y="417.2" width="11.100000000000023" height="15.0" rx="2.5"/><rect x="679.6" y="432.2" width="11.100000000000023" height="7.199999999999989" rx="1.8"/>
<rect x="662.8" y="522.2" width="3" height="55" rx="1.5" fill="#999" stroke-width="1"/>
<path d="M665.2,522.4 L679.6,536.4 M665.2,577.1 L679.6,563.5"/>
<rect x="679.6" y="535.6" width="11.100000000000023" height="6.7999999999999545" rx="1.8"/><rect x="679.6" y="542.4" width="11.100000000000023" height="14.800000000000068" rx="2.5"/><rect x="679.6" y="557.2" width="11.100000000000023" height="7.199999999999932" rx="1.8"/>
<path d="M691.6,410.3 L691.6,564.5"/>
<path d="M692.2,410.3 L708.4,416.6 L715.9,465.3 M707.2,417 L714.5,466"/>
<path d="M692.2,564.5 L708.4,558.2 L715.9,510.3 M707.2,557.8 L714.5,509"/>
<path d="M691.6,472 C687,478 685.5,483 685.5,486.5 C685.5,490 687,495 691.6,501"/>
<path d="M775,475.3 L860,475.3" stroke-width="1.3"/>
<path d="M775,499.5 L860,499.5" stroke-width="1.8"/>
<path d="M718.7,470 C712,468.5 705,469.5 700,473 C694,477 692.1,482 692.1,487 C692.1,493 694.5,498 700,501.5 C705,505 712,506 718.7,504.6 L775,499 C780,498 784.5,493 784.5,487 C784.5,481 780,476 775,475.6 Z" stroke-width="1.6"/>
<path d="M774,477 C778,480 779,484 779,487 C779,490 778,494 774,497.5"/>
<line x1="719.4" y1="470" x2="719.4" y2="504.6" stroke="#777" stroke-width="0.9"/>
<line x1="710.3" y1="478" x2="710.3" y2="495.5" stroke-width="2.2"/>
<path d="M719,469.9 L734.6,486.4 L740.5,494.5 M719,504.5 C724,499.5 730,492 737.1,483.9" stroke-width="1.3"/>
<path d="M700,470.7 L714.8,460.8 M700,504 L714.8,513.8" stroke-width="1.2"/>
<g stroke-dasharray="8.5,3" stroke-width="1.5">
<path d="M714.8,460.8 L744.3,437 C747,434.5 751.5,431.5 755.5,431.4 C760,431.3 764,434.5 766,439.3 C767.3,442.5 767.2,445 765.5,447.5 L737.1,483.9"/>
<path d="M714.8,513.8 L744.3,537.6 C747,540.1 751.5,543.1 755.5,543.2 C760,543.3 764,540.1 766,535.3 C767.3,532.1 767.2,529.6 765.5,527.1 L740.5,494.5"/>
</g>
<g stroke-dasharray="5,3" stroke-width="1.1">
<path d="M745.5,436.5 C748,435 751,434.5 754,435.5 M760,440 C762,442 763,444.5 762.5,447"/>
<path d="M745.5,538.1 C748,539.6 751,540.1 754,539.1 M760,534.6 C762,532.6 763,530.1 762.5,527.6"/>
</g>
<path d="M792.4,432.6 A71.6,71.6 0 0 1 792.4,543.8" stroke-width="1.1"/>
<path d="M790.80,431.50 L796.94,437.08 L793.23,439.43 Z" fill="#1e1e1e" stroke="none"/><path d="M790.80,544.80 L793.23,536.87 L796.94,539.22 Z" fill="#1e1e1e" stroke="none"/>
</g>
<g><text x="791.5" y="428.6" font-size="15" text-anchor="middle">Cold</text><text x="789.6" y="560" font-size="15" text-anchor="middle">Hot</text><text x="822.4" y="494.2" font-size="15" text-anchor="middle">90°</text></g>
</g>
</svg>
</body></html>
